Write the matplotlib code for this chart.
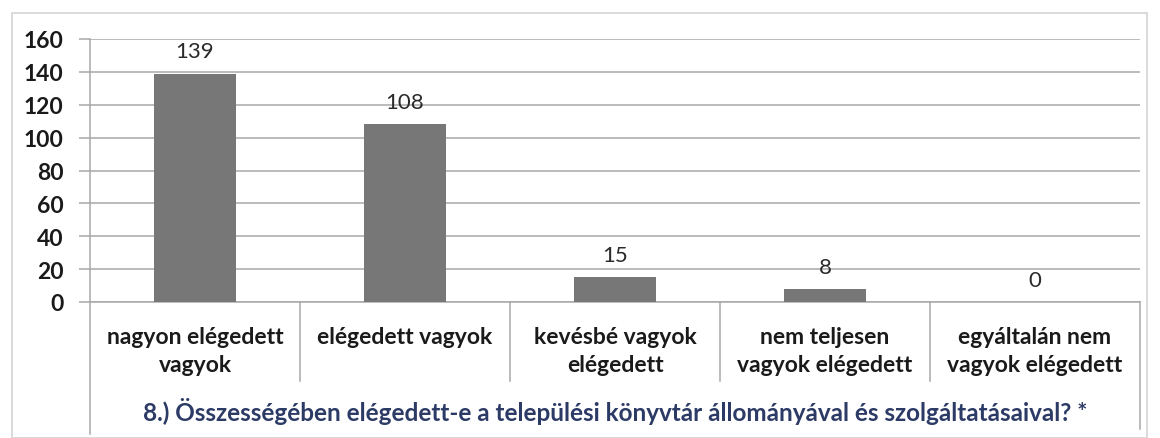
import matplotlib.pyplot as plt
from matplotlib.patches import Rectangle

plt.rcParams['font.family'] = ['Lato', 'DejaVu Sans']

categories = ['nagyon elégedett\nvagyok', 'elégedett vagyok', 'kevésbé vagyok\nelégedett',
              'nem teljesen\nvagyok elégedett', 'egyáltalán nem\nvagyok elégedett']
counts = [139, 108, 15, 8, 0]
yticks = [0, 20, 40, 60, 80, 100, 120, 140, 160]
title = '8.) Összességében elégedett-e a települési könyvtár állományával és szolgáltatásaival? *'

W, H = 1160, 439
fig = plt.figure(figsize=(W / 100, H / 100), dpi=100)
ax = fig.add_axes([90 / W, 1 - 303 / H, 1050 / W, 263 / H])

# outer chart frame
fig.patches.append(Rectangle((12 / W, 0.0), 1135 / W, 1 - 14 / H, transform=fig.transFigure,
                             fill=False, edgecolor='#d4d4d4', linewidth=1.2))

ax.bar(range(len(counts)), counts, width=0.39, color='#777777', zorder=3)
for i, v in enumerate(counts):
    ax.annotate(str(v), (i, v), xytext=(0, 16), textcoords='offset points',
                ha='center', va='center', fontsize=16, color='#2a2a2a')

ax.set_xlim(-0.5, len(counts) - 0.5)
ax.set_ylim(0, 160)
ax.set_yticks(yticks)
ax.yaxis.grid(True, color='#a8a8a8', linewidth=1.1, zorder=0)
ax.tick_params(axis='y', length=8, width=1.1, color='#a8a8a8', labelsize=16.5, pad=11)
for lab in ax.get_yticklabels():
    lab.set_fontweight('bold')
    lab.set_color('#1a1a1a')

ax.set_xticks(range(len(categories)))
ax.set_xticklabels(categories, fontsize=16.5, fontweight='bold', color='#1a1a1a',
                   linespacing=1.45)
ax.tick_params(axis='x', length=0, pad=17)

for s in ['top', 'right']:
    ax.spines[s].set_visible(False)
ax.spines['left'].set_color('#a8a8a8')
ax.spines['bottom'].set_color('#a8a8a8')
ax.spines['left'].set_linewidth(1.1)
ax.spines['bottom'].set_linewidth(1.1)

# table-like separators under the axis
trans = ax.get_xaxis_transform()
for i in range(len(categories) + 1):
    x = i - 0.5
    if i == 0:
        y0 = -(435 - 303) / 263
    elif i == len(categories):
        y0 = -(430 - 303) / 263
    else:
        y0 = -(382 - 303) / 263
    ax.plot([x, x], [0, y0], transform=trans, color='#a8a8a8', linewidth=1.1, clip_on=False)

fig.text((90 + 1050 / 2) / W, 1 - 412 / H, title, ha='center', va='center',
         fontsize=17.5, fontweight='bold', color='#2c3a66')

fig.savefig('out.png', dpi=100)
